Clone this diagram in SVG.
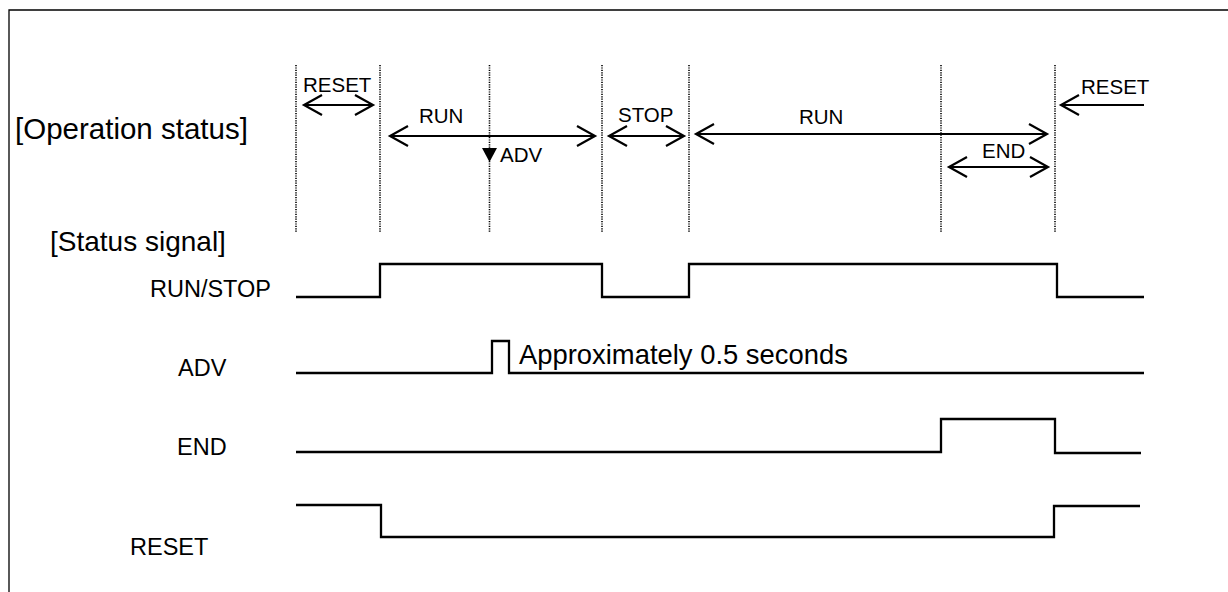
<svg xmlns="http://www.w3.org/2000/svg" width="1228" height="592" viewBox="0 0 1228 592">
<style>
text{font-family:"Liberation Sans",Arial,sans-serif;fill:#000}
.lbl{font-size:20.5px}
.sig{font-size:23.5px}
.hdr{font-size:29.5px}
.dot{stroke:#000;stroke-width:1.6;stroke-dasharray:1.2 1.2;fill:none}
.wave{stroke:#000;stroke-width:2.3;fill:none;stroke-linejoin:miter}
.arr{stroke:#000;stroke-width:2.2;fill:none}
</style>
<defs>
<marker id="ah" markerUnits="userSpaceOnUse" viewBox="-20 -12 22 24" markerWidth="22" markerHeight="24" refX="0" refY="0" orient="auto-start-reverse" overflow="visible">
<path d="M-18,-10 L0,0 L-18,10" fill="none" stroke="#000" stroke-width="2.2"/>
</marker>
</defs>
<rect width="1228" height="592" fill="#fff"/>
<path d="M9,592 V10 H1228" fill="none" stroke="#000" stroke-width="1.3"/>

<g id="headers">
<text class="hdr" x="15" y="139">[Operation status]</text>
<text class="hdr" x="50" y="251" style="font-size:28px">[Status signal]</text>
</g>

<g id="gridlines">
<line class="dot" x1="296" y1="65" x2="296" y2="233"/>
<line class="dot" x1="380" y1="65" x2="380" y2="233"/>
<line class="dot" x1="489.5" y1="65" x2="489.5" y2="233"/>
<line class="dot" x1="602" y1="65" x2="602" y2="233"/>
<line class="dot" x1="689" y1="65" x2="689" y2="233"/>
<line class="dot" x1="941" y1="65" x2="941" y2="233"/>
<line class="dot" x1="1055" y1="65" x2="1055" y2="233"/>
</g>

<g id="connectors">
<line class="arr" x1="304" y1="105" x2="373" y2="105" marker-start="url(#ah)" marker-end="url(#ah)"/>
<line class="arr" x1="390" y1="136" x2="595" y2="136" marker-start="url(#ah)" marker-end="url(#ah)"/>
<line class="arr" x1="609" y1="136" x2="684" y2="136" marker-start="url(#ah)" marker-end="url(#ah)"/>
<line class="arr" x1="696" y1="134" x2="1047" y2="134" marker-start="url(#ah)" marker-end="url(#ah)"/>
<line class="arr" x1="949" y1="167" x2="1048" y2="167" marker-start="url(#ah)" marker-end="url(#ah)"/>
<line class="arr" x1="1144" y1="105" x2="1061" y2="105" marker-end="url(#ah)"/>
</g>

<g id="op-reset1"><text class="lbl" x="303" y="92">RESET</text></g>
<g id="op-run1"><text class="lbl" x="419" y="123">RUN</text></g>
<g id="op-adv"><polygon points="482,148 497,148 489.5,162" fill="#000"/><text class="lbl" x="500" y="162">ADV</text></g>
<g id="op-stop"><text class="lbl" x="618" y="122">STOP</text></g>
<g id="op-run2"><text class="lbl" x="799" y="124">RUN</text></g>
<g id="op-end"><text class="lbl" x="982" y="158">END</text></g>
<g id="op-reset2"><text class="lbl" x="1081" y="94">RESET</text></g>

<g id="sig-runstop">
<text class="sig" x="150" y="297">RUN/STOP</text>
<path class="wave" d="M296,297 H380 V264 H602 V297 H689 V264 H1057 V297 H1144"/>
</g>
<g id="sig-adv">
<text class="sig" x="178" y="376">ADV</text>
<path class="wave" d="M296,373 H492 V341 H509 V373 H1144"/>
<text x="519" y="364" style="font-size:27.4px">Approximately 0.5 seconds</text>
</g>
<g id="sig-end">
<text class="sig" x="177" y="455">END</text>
<path class="wave" d="M296,452 H941 V419 H1055 V453 H1141"/>
</g>
<g id="sig-reset">
<text class="sig" x="130" y="555">RESET</text>
<path class="wave" d="M296,505 H381 V537 H1054 V506 H1140"/>
</g>
</svg>
